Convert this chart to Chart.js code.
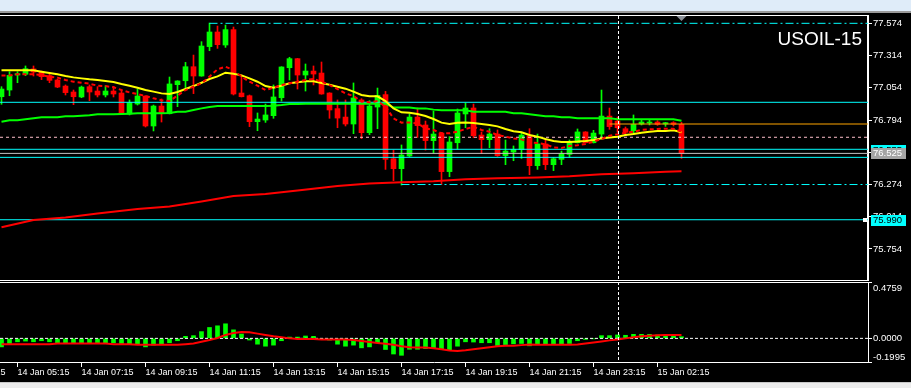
<!DOCTYPE html>
<html>
<head>
<meta charset="utf-8">
<title>USOIL-15</title>
<script src="https://cdn.jsdelivr.net/npm/chart.js@4.4.1/dist/chart.umd.min.js"></script>
<style>
  body { margin:0; background:#000; width:911px; height:388px; overflow:hidden; position:relative; }
  #bar { position:absolute; left:0; top:0; width:911px; height:11px; background:#dfecf9; }
  #barline { position:absolute; left:0; top:11px; width:911px; height:2px; background:#9a9a9a; }
  #foot { position:absolute; left:0; top:382px; width:911px; height:5px; background:#ececec; border-top:1px solid #c8c8c8; }
  canvas { position:absolute; left:0; }
  #main { top:0; }
  #sub { top:282px; }
</style>
</head>
<body>
<div id="bar"></div><div id="barline"></div>
<canvas id="main" width="911" height="282"></canvas>
<canvas id="sub" width="911" height="106"></canvas>
<div id="foot"></div>
<script>
// 15 min candles, 14 Jan 04:45 .. 15 Jan 02:45
const candleOpen = [76.982,77.036,77.157,77.163,77.206,77.184,77.152,77.117,77.068,77.020,
  76.980,77.063,77.028,76.996,77.028,77.012,76.843,76.923,76.988,76.746,
  76.907,76.845,77.079,77.111,77.224,77.149,77.386,77.504,77.399,77.523,
  77.012,76.990,76.781,76.794,76.829,76.974,77.216,77.289,77.157,77.189,
  77.173,77.012,76.886,76.818,76.762,76.956,76.692,76.899,76.999,76.482,
  76.402,76.504,76.818,76.754,76.628,76.689,76.378,76.611,76.843,76.891,
  76.673,76.636,76.681,76.507,76.536,76.555,76.668,76.426,76.601,76.434,
  76.477,76.517,76.611,76.698,76.611,76.681,76.826,76.786,76.724,76.708,
  76.762,76.770,76.778,76.762,76.773,76.759];
const candleHigh = [77.063,77.184,77.184,77.230,77.230,77.189,77.163,77.125,77.077,77.036,
  77.068,77.077,77.063,77.071,77.066,77.034,76.956,77.044,76.990,76.915,
  76.964,77.141,77.111,77.259,77.318,77.426,77.576,77.552,77.560,77.544,
  77.157,76.996,76.851,76.923,77.077,77.224,77.300,77.291,77.246,77.230,
  77.262,77.014,76.956,76.956,77.093,76.966,76.950,77.052,77.025,76.552,
  76.593,76.843,76.891,76.786,76.867,76.695,76.660,76.883,76.931,76.923,
  76.698,76.724,76.714,76.633,76.585,76.687,76.724,76.681,76.638,76.493,
  76.544,76.633,76.722,76.700,76.711,77.036,76.891,76.818,76.738,76.835,
  76.792,76.797,76.789,76.775,76.781,76.775];
const candleLow = [76.921,76.990,77.095,77.152,77.149,77.120,77.095,77.055,76.996,76.918,
  76.974,76.950,76.980,76.980,76.980,76.840,76.835,76.915,76.738,76.706,
  76.778,76.843,76.902,77.036,77.007,77.147,77.353,77.372,77.380,76.996,
  76.980,76.741,76.708,76.775,76.808,76.947,77.117,77.044,77.028,77.077,
  77.002,76.808,76.732,76.746,76.684,76.644,76.676,76.724,76.396,76.305,
  76.270,76.499,76.654,76.552,76.528,76.275,76.337,76.560,76.732,76.652,
  76.523,76.571,76.501,76.434,76.466,76.485,76.353,76.396,76.394,76.386,
  76.434,76.493,76.609,76.609,76.609,76.646,76.719,76.695,76.671,76.684,
  76.754,76.754,76.751,76.743,76.746,76.485];
const candleClose = [77.044,77.154,77.168,77.208,77.181,77.144,77.114,77.060,77.015,76.982,
  77.060,77.020,76.996,77.028,77.004,76.843,76.934,76.988,76.746,76.907,
  76.851,77.085,77.109,77.224,77.149,77.391,77.504,77.402,77.523,77.004,
  76.982,76.781,76.802,76.835,76.980,77.222,77.289,77.157,77.189,77.165,
  77.004,76.875,76.810,76.762,76.972,76.692,76.907,76.993,76.477,76.402,
  76.512,76.818,76.749,76.628,76.681,76.378,76.617,76.851,76.891,76.668,
  76.636,76.681,76.507,76.544,76.558,76.673,76.426,76.601,76.434,76.482,
  76.523,76.611,76.698,76.611,76.689,76.826,76.741,76.732,76.695,76.759,
  76.778,76.778,76.759,76.773,76.759,76.523];

// moving averages
const maFast = [77.154,77.154,77.163,77.163,77.163,77.157,77.144,77.136,77.117,77.103,
  77.095,77.087,77.071,77.068,77.058,77.036,77.017,77.004,76.988,76.969,
  76.953,76.947,76.990,77.036,77.063,77.090,77.144,77.203,77.224,77.197,
  77.144,77.103,77.071,77.036,77.055,77.076,77.090,77.103,77.117,77.125,
  77.103,77.076,77.044,77.009,76.988,76.942,76.937,76.947,76.902,76.808,
  76.773,76.775,76.767,76.727,76.714,76.687,76.687,76.700,76.722,76.740,
  76.714,76.700,76.673,76.660,76.646,76.638,76.614,76.609,76.598,76.574,
  76.568,76.585,76.590,76.601,76.620,76.641,76.668,76.679,76.692,76.700,
  76.714,76.719,76.722,76.724,76.724,76.700];
const maMid = [77.195,77.195,77.195,77.195,77.195,77.184,77.173,77.163,77.149,77.138,
  77.130,77.122,77.117,77.109,77.101,77.085,77.071,77.055,77.036,77.023,
  77.009,77.004,77.020,77.044,77.068,77.095,77.125,77.146,77.176,77.168,
  77.154,77.130,77.103,77.068,77.055,77.071,77.090,77.098,77.106,77.106,
  77.093,77.079,77.063,77.047,77.023,76.996,76.985,76.985,76.947,76.888,
  76.856,76.853,76.843,76.826,76.802,76.773,76.762,76.773,76.775,76.770,
  76.762,76.754,76.743,76.722,76.703,76.695,76.673,76.660,76.641,76.625,
  76.617,76.617,76.620,76.625,76.633,76.646,76.654,76.660,76.673,76.681,
  76.692,76.700,76.706,76.706,76.711,76.695];
const maSlow = [76.781,76.792,76.792,76.800,76.808,76.816,76.816,76.816,76.824,76.824,
  76.829,76.832,76.840,76.840,76.840,76.843,76.845,76.848,76.848,76.848,
  76.848,76.851,76.861,76.861,76.875,76.888,76.899,76.907,76.907,76.907,
  76.907,76.907,76.907,76.907,76.910,76.915,76.923,76.923,76.926,76.926,
  76.926,76.926,76.926,76.926,76.926,76.926,76.926,76.926,76.926,76.896,
  76.896,76.896,76.888,76.888,76.878,76.872,76.872,76.872,76.872,76.861,
  76.861,76.861,76.861,76.861,76.848,76.848,76.840,76.832,76.824,76.824,
  76.816,76.816,76.808,76.808,76.808,76.808,76.808,76.800,76.800,76.800,
  76.800,76.800,76.800,76.800,76.800,76.789];
const ma200Idx = [0,4,8,12,17,21,25,29,33,37,42,46,50,54,58,62,67,71,75,79,83,85];
const ma200Val = [75.929,75.988,76.008,76.040,76.076,76.097,76.137,76.181,76.197,76.226,76.262,
  76.282,76.292,76.300,76.316,76.324,76.330,76.340,76.356,76.364,76.377,76.380];

// MACD window
const macdHist = [-0.072,-0.043,-0.029,-0.023,-0.029,-0.020,-0.029,-0.037,-0.037,-0.043,
  -0.037,-0.037,-0.037,-0.037,-0.037,-0.043,-0.049,-0.049,-0.072,-0.057,
  -0.049,-0.037,-0.020,0.017,0.023,0.057,0.092,0.106,0.123,0.072,
  0.037,-0.014,-0.049,-0.066,-0.057,-0.020,0.011,0.011,0.020,0.017,
  -0.006,-0.014,-0.049,-0.066,-0.057,-0.080,-0.072,-0.037,-0.094,-0.132,
  -0.143,-0.092,-0.092,-0.086,-0.080,-0.092,-0.100,-0.066,-0.029,-0.031,
  -0.037,-0.037,-0.060,-0.052,-0.046,-0.043,-0.063,-0.052,-0.052,-0.052,
  -0.049,-0.043,-0.020,-0.009,-0.003,0.023,0.023,0.029,0.026,0.034,
  0.034,0.034,0.029,0.023,0.020,0.014];
const macdSignal = [-0.049,-0.049,-0.049,-0.049,-0.049,-0.049,-0.049,-0.043,-0.043,-0.043,
  -0.043,-0.043,-0.043,-0.043,-0.049,-0.049,-0.049,-0.054,-0.054,-0.054,
  -0.054,-0.054,-0.054,-0.049,-0.043,-0.029,-0.014,0.003,0.029,0.046,
  0.054,0.052,0.040,0.029,0.017,0.009,0.000,-0.006,-0.006,-0.006,
  -0.009,-0.009,-0.009,-0.009,-0.014,-0.023,-0.031,-0.040,-0.046,-0.054,
  -0.066,-0.074,-0.077,-0.077,-0.083,-0.092,-0.103,-0.106,-0.100,-0.092,
  -0.083,-0.074,-0.066,-0.063,-0.063,-0.057,-0.052,-0.054,-0.054,-0.054,
  -0.054,-0.054,-0.052,-0.043,-0.034,-0.026,-0.017,-0.009,0.000,0.009,
  0.017,0.023,0.026,0.029,0.029,0.029];

// axis ticks
const priceTicks = [77.574,77.314,77.054,76.794,76.534,76.274,76.014,75.754];
const priceTickLabels = ['77.574','77.314','77.054','76.794','76.534','76.274','76.014','75.754'];
const macdTicks = [0.4759,0,-0.1995];
const macdTickLabels = ['0.4759','0.0000','-0.1995'];
const timeTickIdx = [-6,2,10,18,26,34,42,50,58,66,74,82];
const timeLabels = ['14 Jan 03:15','14 Jan 05:15','14 Jan 07:15','14 Jan 09:15','14 Jan 11:15','14 Jan 13:15',
  '14 Jan 15:15','14 Jan 17:15','14 Jan 19:15','14 Jan 21:15','14 Jan 23:15','15 Jan 02:15'];

// horizontal objects and price tags
const levelPrices = [77.574,76.937,76.762,76.655,76.558,76.525,76.493,76.274,75.990];
const levelFrom = [26,null,76,null,null,null,null,50,null];
const tagPrices = [76.555,76.525,75.990];
const tagLabels = ['76.555','76.525','75.990'];
const crossIdx = 77, shiftIdx = 85;
const symbolTitle = 'USOIL-15';

const bull = '#00ff00', bear = '#ff0000', aqua = '#00ffff';
const xMin = -0.1875, xMax = 108.3125;
const fontAxis = { family: 'Liberation Sans', size: 9.5 };
const fontTime = { family: 'Liberation Sans', size: 9 };
const fontCss = '9.5px "Liberation Sans"';

const pts = arr => arr.map((v, i) => ({ x: i, y: v }));
const candleColor = candleOpen.map((o, i) => candleClose[i] >= o ? bull : bear);

const levelStyle = [
  { c: aqua, d: [8,3,2,3] }, { c: aqua }, { c: '#ffa500' }, { c: '#ffc0cb', d: [3,3] },
  { c: aqua }, { c: '#c0c0c0' }, { c: aqua }, { c: aqua, d: [8,3,2,3] }, { c: aqua }
];
const levelSets = levelPrices.map((p, i) => ({
  type: 'line', order: 8,
  data: [{ x: levelFrom[i] === null ? xMin : levelFrom[i], y: p }, { x: xMax, y: p }],
  borderColor: levelStyle[i].c, borderWidth: 1, borderDash: levelStyle[i].d || [],
  pointRadius: 0
}));

const lineSet = (data, color, width, dash, order) => ({
  type: 'line', data, borderColor: color, borderWidth: width, borderDash: dash || [],
  pointRadius: 0, order
});

const mainDeco = {
  id: 'mainDeco',
  afterDraw(chart) {
    const { ctx, chartArea: a, scales: { x, y } } = chart;
    ctx.save();
    ctx.strokeStyle = '#fff';
    ctx.lineWidth = 1;
    ctx.beginPath();
    ctx.moveTo(0, a.top - 0.5); ctx.lineTo(a.right, a.top - 0.5);
    ctx.moveTo(0, a.bottom + 0.5); ctx.lineTo(a.right, a.bottom + 0.5);
    ctx.stroke();
    // vertical crosshair
    const cx = Math.round(x.getPixelForValue(crossIdx)) + 0.5;
    ctx.setLineDash([3, 2]);
    ctx.beginPath(); ctx.moveTo(cx, a.top); ctx.lineTo(cx, a.bottom); ctx.stroke();
    ctx.setLineDash([]);
    // symbol
    ctx.fillStyle = '#fff';
    ctx.font = '19px "Liberation Sans"';
    ctx.textAlign = 'right';
    ctx.textBaseline = 'alphabetic';
    ctx.fillText(symbolTitle, a.right - 6, 44.5);
    // chart shift marker
    const tx = x.getPixelForValue(shiftIdx);
    ctx.fillStyle = '#8c9199';
    ctx.beginPath(); ctx.moveTo(tx - 5, a.top); ctx.lineTo(tx + 5, a.top); ctx.lineTo(tx, a.top + 5); ctx.fill();
    // price tags
    ctx.font = fontCss;
    ctx.textAlign = 'left';
    ctx.textBaseline = 'middle';
    const tagBg = [aqua, '#a4a4a4', aqua], tagFg = ['#000', '#fff', '#000'];
    tagPrices.forEach((p, i) => {
      const py = Math.round(y.getPixelForValue(p));
      ctx.fillStyle = tagBg[i];
      ctx.fillRect(a.right + 3, py - 5, 35, 11);
      ctx.fillStyle = tagFg[i];
      ctx.fillText(tagLabels[i], a.right + 5, py + 0.5);
    });
    const sy = Math.round(y.getPixelForValue(tagPrices[2]));
    ctx.fillStyle = '#fff';
    ctx.fillRect(a.right - 5, sy - 2, 4, 4);
    ctx.restore();
  }
};

new Chart(document.getElementById('main'), {
  type: 'bar',
  data: {
    datasets: [
      { type: 'bar', order: 20, grouped: false, barThickness: 1,
        data: candleOpen.map((o, i) => ({ x: i, y: [candleLow[i], candleHigh[i]] })),
        backgroundColor: candleColor },
      { type: 'bar', order: 19, grouped: false, barThickness: 5, minBarLength: 1,
        data: candleOpen.map((o, i) => ({ x: i, y: [Math.min(o, candleClose[i]), Math.max(o, candleClose[i])] })),
        backgroundColor: candleColor },
      ...levelSets,
      lineSet(ma200Idx.map((k, i) => ({ x: k, y: ma200Val[i] })), '#ff0000', 2, null, 4),
      lineSet(pts(maSlow), '#00ff00', 2, null, 3),
      lineSet(pts(maMid), '#ffff00', 2, null, 2),
      lineSet(pts(maFast), '#ff0000', 2, [4, 3], 1)
    ]
  },
  options: {
    responsive: false, animation: false, events: [],
    layout: { padding: { top: 16, bottom: 2, left: 0, right: 0 } },
    plugins: { legend: { display: false }, tooltip: { enabled: false } },
    scales: {
      x: { type: 'linear', offset: false, min: xMin, max: xMax, display: false },
      y: {
        position: 'right', min: 75.504, max: 77.633,
        afterBuildTicks: s => { s.ticks = priceTicks.map(v => ({ value: v })); },
        afterFit: s => { s.width = 43; s.paddingTop = 0; s.paddingBottom = 0; },
        ticks: { color: '#fff', padding: 1, font: fontAxis, callback: (v, i) => priceTickLabels[i] },
        grid: { drawOnChartArea: false, tickLength: 4, color: '#fff' },
        border: { color: '#fff', width: 2 }
      }
    }
  },
  plugins: [mainDeco]
});

const subDeco = {
  id: 'subDeco',
  afterDraw(chart) {
    const { ctx, chartArea: a, scales: { x, y } } = chart;
    ctx.save();
    ctx.strokeStyle = '#fff';
    ctx.lineWidth = 1;
    ctx.beginPath(); ctx.moveTo(0, a.top + 0.5); ctx.lineTo(a.right, a.top + 0.5); ctx.stroke();
    const cx = Math.round(x.getPixelForValue(crossIdx)) + 0.5;
    ctx.setLineDash([3, 2]);
    ctx.beginPath(); ctx.moveTo(cx, a.top); ctx.lineTo(cx, a.bottom); ctx.stroke();
    ctx.setLineDash([]);
    ctx.fillStyle = '#fff';
    ctx.font = fontCss;
    ctx.textAlign = 'left';
    ctx.textBaseline = 'middle';
    const shift = [6, 0, -5];
    macdTicks.forEach((v, i) => {
      ctx.fillText(macdTickLabels[i], a.right + 5, y.getPixelForValue(v) + shift[i]);
    });
    ctx.restore();
  }
};

new Chart(document.getElementById('sub'), {
  type: 'bar',
  data: {
    datasets: [
      { type: 'line', order: 5, data: [{ x: xMin, y: 0 }, { x: xMax, y: 0 }],
        borderColor: '#fff', borderWidth: 1, borderDash: [3, 2], pointRadius: 0 },
      { type: 'bar', order: 10, grouped: false, barThickness: 4, data: pts(macdHist), backgroundColor: bull },
      lineSet(pts(macdSignal), '#ff0000', 2, null, 1)
    ]
  },
  options: {
    responsive: false, animation: false, events: [],
    layout: { padding: 0 },
    plugins: { legend: { display: false }, tooltip: { enabled: false } },
    scales: {
      x: {
        type: 'linear', offset: false, min: xMin, max: xMax, position: 'bottom',
        afterBuildTicks: s => { s.ticks = timeTickIdx.map(v => ({ value: v })); },
        afterFit: s => { s.height = 26; s.paddingLeft = 0; s.paddingRight = 0; },
        ticks: { color: '#fff', align: 'start', maxRotation: 0, autoSkip: false, padding: 0, font: fontTime,
          callback: (v, i) => timeLabels[i] },
        grid: { drawOnChartArea: false, offset: false, tickLength: 5, color: '#fff' },
        border: { color: '#fff' }
      },
      y: {
        position: 'right', min: -0.1995, max: 0.4759,
        afterBuildTicks: s => { s.ticks = macdTicks.map(v => ({ value: v })); },
        afterFit: s => { s.width = 43; s.paddingTop = 0; s.paddingBottom = 0; },
        ticks: { display: false },
        grid: { drawOnChartArea: false, tickLength: 4, color: '#fff' },
        border: { color: '#fff' }
      }
    }
  },
  plugins: [subDeco]
});
</script>
</body>
</html>
